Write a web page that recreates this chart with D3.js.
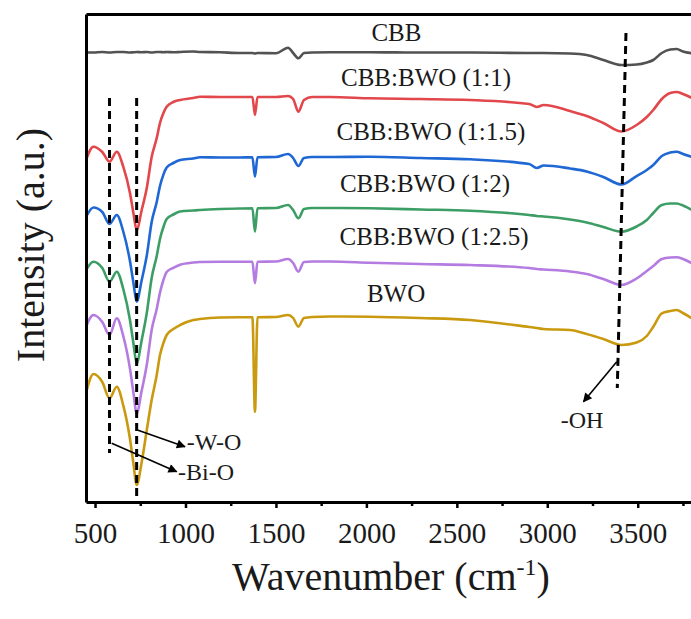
<!DOCTYPE html>
<html>
<head>
<meta charset="utf-8">
<script src="https://cdn.jsdelivr.net/npm/d3@7"></script>
<style>
  body { margin: 0; background: #fff; }
</style>
</head>
<body>
<svg id="svgRoot" width="691" height="619"></svg>
<script>
// wavenumber grid (cm-1) shared by all spectra
const wavenumbers = [450, 491, 540, 580, 620, 656, 693, 712, 730, 758,
  786, 813, 841, 859, 878, 896, 933, 970, 1043, 1080,
  1191, 1300, 1370, 1384, 1398, 1500, 1567, 1595, 1624, 1655,
  1700, 1800, 2020, 2300, 2573, 2900, 2942, 2980, 3126, 3218,
  3310, 3410, 3494, 3550, 3586, 3633, 3680, 3715, 3750, 3800]

// intensities (a.u., stacked)
const cbb = [449.5, 449.5, 450, 449.5, 450, 450, 449.5, 449.7, 450, 449.7,
  450, 449.5, 450, 450, 449.7, 450, 449.7, 450, 450.5, 450,
  449.7, 449, 449, 448.5, 449, 448.7, 454.3, 449, 443.7, 449,
  449.5, 449.7, 449.7, 449.5, 449.5, 449, 449, 449, 448.5, 447,
  442, 437, 437.5, 439.5, 442, 449, 452.5, 453, 450.5, 448.7]
const cbb_bwo_1_1 = [342, 355.3, 350, 340.3, 350.3, 335.3, 309, 289, 272, 292,
  314, 345, 364, 379, 389, 395.3, 400, 402, 404, 405.3,
  405, 405, 405, 387, 405, 405, 406, 403, 390.3, 402,
  405, 405, 403.7, 403, 402, 398, 395, 397, 391, 386,
  379, 370.5, 377, 385, 392, 403, 409, 410, 408, 404]
const cbb_bwo_1_15 = [285, 294.5, 290, 278, 287, 270.5, 241, 219.4, 200.3, 222,
  246.5, 280, 300, 316, 327.4, 334.4, 339, 342, 343.5, 344.7,
  344.5, 344.5, 344.7, 325.3, 344.7, 345, 348, 344, 336, 344,
  345, 345, 345.3, 344, 342.7, 338, 334, 336.5, 333.5, 330.5,
  325, 317.5, 326, 332, 337, 346, 349.5, 350.3, 348, 345]
const cbb_bwo_1_2 = [232, 240.3, 234, 220.3, 230.3, 213, 182, 159, 138.7, 162,
  189, 224, 246, 263, 275, 283, 287.5, 290.5, 291.5, 292,
  293, 293.5, 293.7, 270.3, 293.7, 294, 297, 292, 283.7, 293,
  294, 294, 293.7, 292.5, 291.3, 287, 286, 285.5, 282.5, 279.5,
  275, 270.3, 275.5, 282, 289, 297, 298.5, 298.5, 296.5, 292]
const cbb_bwo_1_25 = [175.3, 187, 180, 167, 183.7, 166, 133.4, 109.6, 88.7, 111.4,
  137.2, 172, 193, 209.4, 222, 230, 234.2, 237.3, 239.5, 240,
  240.3, 240.3, 240.3, 218.7, 240.3, 240.5, 243, 239, 230.3, 240,
  240.5, 240.5, 239.3, 238, 237, 234, 233, 232.5, 230.5, 228,
  223, 217, 223.5, 231, 236, 243, 244.5, 244.7, 243, 238.7]
const bwo = [108.7, 128, 120, 103.7, 115.3, 96.6, 63.2, 38.6, 17, 40,
  72, 102, 127, 147, 159, 167, 173, 177, 182, 183,
  184.5, 184.7, 184.7, 90.3, 184.7, 185, 187, 184, 175.3, 184,
  185, 185.5, 185.3, 184, 182, 175, 174, 173, 172, 168,
  163, 157, 159.5, 166, 175.3, 188.7, 191, 192, 189, 183.7]

const seriesNames = ["CBB", "CBB:BWO (1:1)", "CBB:BWO (1:1.5)", "CBB:BWO (1:2)", "CBB:BWO (1:2.5)", "BWO"]
const seriesValues = [cbb, cbb_bwo_1_1, cbb_bwo_1_15, cbb_bwo_1_2, cbb_bwo_1_25, bwo]
const seriesColors = ["#525252", "#e2474b", "#1f68d4", "#3c9e65", "#b47be0", "#c99a10"]
// where each curve's name sits (wavenumber, intensity)
const labelAt = [[2166, 461], [2330, 416], [2357, 362], [2324, 310], [2374, 257], [2164, 200]]

const xTicks = [500, 1000, 1500, 2000, 2500, 3000, 3500]
const xMinorTicks = [750, 1250, 1750, 2250, 2750, 3250, 3750]

const serif = "'Liberation Serif', 'DejaVu Serif', serif"

let svg = d3.select("#svgRoot").attr("font-family", serif)

const plot = { left: 86, right: 692, top: 14, bottom: 502 }

let scale_x = d3.scaleLinear().domain([450, 3800]).range([plot.left, plot.right])
let scale_y = d3.scaleLinear().domain([0, 488]).range([plot.bottom, plot.top])

svg.append("defs").append("marker")
  .attr("id", "arrow")
  .attr("viewBox", "0 0 10 10")
  .attr("refX", 9).attr("refY", 5)
  .attr("markerWidth", 12).attr("markerHeight", 9)
  .attr("markerUnits", "userSpaceOnUse")
  .attr("orient", "auto")
  .append("path")
  .attr("d", "M0,0 L10,5 L0,10 z")
  .attr("fill", "#000")

let line = d3.line()
  .x((d) => scale_x(d[0]))
  .y((d) => scale_y(d[1]))
  .curve(d3.curveMonotoneX)

let g_lines = svg.append("g").attr("class", "g_lines")
seriesValues.forEach((vals, i) => {
  let pts = wavenumbers.map((w, j) => [w, vals[j]])
  g_lines.append("path")
    .datum(pts)
    .attr("d", line)
    .attr("fill", "none")
    .attr("stroke", seriesColors[i])
    .attr("stroke-width", 2.6)
    .attr("stroke-linejoin", "round")
})

// dashed guide lines at the bands
let guides = [
  [[580, 404], [580, 49]],
  [[730, 404], [730, 5]],
  [[3435, 469], [3387, 114]],
]
svg.append("g").selectAll("line").data(guides).enter()
  .append("line")
  .attr("x1", (d) => scale_x(d[0][0])).attr("y1", (d) => scale_y(d[0][1]))
  .attr("x2", (d) => scale_x(d[1][0])).attr("y2", (d) => scale_y(d[1][1]))
  .attr("stroke", "#000")
  .attr("stroke-width", 3)
  .attr("stroke-dasharray", "8,5")

// arrows + band names
let arrows = [
  { from: [734, 72], to: [997, 55.3], text: "-W-O", at: [1007, 52] },
  { from: [592, 58.7], to: [951, 30.3], text: "-Bi-O", at: [959, 22] },
  { from: [3384, 140.3], to: [3200, 100.3], text: "-OH", at: [3074, 74] },
]
let g_ann = svg.append("g")
g_ann.selectAll("line").data(arrows).enter()
  .append("line")
  .attr("x1", (d) => scale_x(d.from[0])).attr("y1", (d) => scale_y(d.from[1]))
  .attr("x2", (d) => scale_x(d.to[0])).attr("y2", (d) => scale_y(d.to[1]))
  .attr("stroke", "#000")
  .attr("stroke-width", 1.6)
  .attr("marker-end", "url(#arrow)")
g_ann.selectAll("text").data(arrows).enter()
  .append("text")
  .attr("x", (d) => scale_x(d.at[0]))
  .attr("y", (d) => scale_y(d.at[1]))
  .attr("font-family", serif)
  .attr("font-size", "24px")
  .attr("fill", "#1a1a1a")
  .text((d) => d.text)

svg.append("g").selectAll("text").data(seriesNames).enter()
  .append("text")
  .attr("x", (d, i) => scale_x(labelAt[i][0]))
  .attr("y", (d, i) => scale_y(labelAt[i][1]))
  .attr("text-anchor", "middle")
  .attr("font-family", serif)
  .attr("font-size", "25px")
  .attr("fill", "#1a1a1a")
  .text((d) => d)

// frame: bottom axis with ticks, plain left and top edges
let g_xAxis = svg.append("g")
  .attr("transform", "translate(0," + plot.bottom + ")")
  .call(d3.axisBottom(scale_x).tickValues(xTicks).tickSize(6).tickSizeOuter(0).tickFormat(d3.format("d")))
g_xAxis.attr("font-family", serif).attr("font-size", 29)
g_xAxis.selectAll("text")
  .attr("y", 41).attr("dy", null)
  .attr("font-family", serif)
  .attr("font-size", "29px")
  .attr("fill", "#1a1a1a")

let g_xMinor = svg.append("g")
  .attr("transform", "translate(0," + plot.bottom + ")")
  .call(d3.axisBottom(scale_x).tickValues(xMinorTicks).tickSize(4).tickFormat(""))
g_xMinor.select(".domain").remove()

let g_yAxis = svg.append("g")
  .attr("transform", "translate(" + plot.left + ",0)")
  .call(d3.axisLeft(scale_y).tickValues([]).tickSizeOuter(0))
let g_top = svg.append("g")
  .attr("transform", "translate(0," + plot.top + ")")
  .call(d3.axisTop(scale_x).tickValues([]).tickSizeOuter(0))

svg.selectAll(".domain").attr("stroke", "#000").attr("stroke-width", 3)
svg.selectAll(".tick line").attr("stroke", "#000").attr("stroke-width", 2.5)

svg.append("text")
  .attr("transform", "translate(43.5, 245) rotate(-90)")
  .attr("text-anchor", "middle")
  .attr("font-family", serif)
  .attr("font-size", "40px")
  .attr("fill", "#1a1a1a")
  .text("Intensity (a.u.)")

let xTitle = svg.append("text")
  .attr("x", 391).attr("y", 590)
  .attr("text-anchor", "middle")
  .attr("font-family", serif)
  .attr("font-size", "40px")
  .attr("fill", "#1a1a1a")
xTitle.append("tspan").text("Wavenumber (cm")
xTitle.append("tspan").attr("font-size", "24px").attr("dy", -15).text("-1")
xTitle.append("tspan").attr("dy", 15).text(")")
</script>
</body>
</html>
